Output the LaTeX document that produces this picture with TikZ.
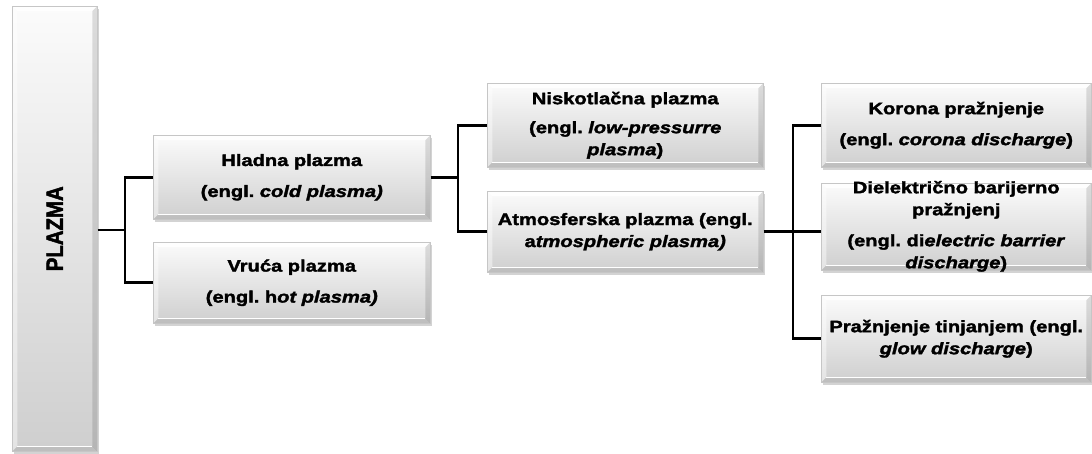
\documentclass[tikz,border=0pt]{standalone}
\usepackage{fontspec}
\setmainfont{Liberation Sans}[FakeStretch=1.22, FakeBold=2]
\newfontfamily\plazmafont{Liberation Sans}[FakeStretch=0.86, FakeBold=2]
\usetikzlibrary{shadows}
\tikzset{
  kutija/.style={draw=gray!45, line width=0.5pt, top color=gray!3, bottom color=gray!38,
    drop shadow={shadow xshift=2pt, shadow yshift=-2.5pt, opacity=0.35},
    anchor=north west, align=center, inner xsep=6pt, inner ysep=0pt,
    text width=265pt, minimum height=84pt,
    font=\frenchspacing\bfseries\fontsize{16.5}{22}\selectfont,
    path picture={
      \coordinate (nw) at (path picture bounding box.north west);
      \coordinate (ne) at (path picture bounding box.north east);
      \coordinate (se) at (path picture bounding box.south east);
      \coordinate (sw) at (path picture bounding box.south west);
      \fill[white, opacity=0.85] (nw) -- (ne) -- ([shift={(-5pt,-5pt)}]ne) -- ([shift={(5pt,-5pt)}]nw) -- cycle;
      \fill[white, opacity=0.45] (nw) -- (sw) -- ([shift={(5pt,5pt)}]sw) -- ([shift={(5pt,-5pt)}]nw) -- cycle;
      \fill[black, opacity=0.12] (ne) -- (se) -- ([shift={(-5pt,5pt)}]se) -- ([shift={(-5pt,-5pt)}]ne) -- cycle;
      \fill[black, opacity=0.08] (sw) -- (se) -- ([shift={(-5pt,5pt)}]se) -- ([shift={(5pt,5pt)}]sw) -- cycle;
      \draw[white, line width=1.2pt] ([shift={(5pt,5pt)}]sw) -- ([shift={(-5pt,5pt)}]se);}},
  veza/.style={line width=2.8pt},
}
\begin{document}
\begin{tikzpicture}[x=1pt, y=-1pt]
    \useasboundingbox (0,0) rectangle (1092,454);

    \node[kutija, text width=73pt, minimum height=445pt] (plazma) at (12,6)
        {\rotatebox{90}{\plazmafont\bfseries\fontsize{23.7}{28}\selectfont PLAZMA}};

    \node[kutija] (hladna) at (153,135) {Hladna plazma\\[9pt](engl. \textit{cold plasma)}};
    \node[kutija, minimum height=81pt] (vruca) at (153,242) {Vruća plazma\\[9pt](engl. h\textit{ot plasma)}};

    \node[kutija, text width=264pt] (niskotlacna) at (487,83) {Niskotlačna plazma\\[7pt](engl. \textit{low-pressurre}\\\textit{plasma})};
    \node[kutija, text width=264pt, minimum height=81pt] (atmosferska) at (487,191) {Atmosferska plazma (engl.\\a\textit{tmospheric plasma)}};

    \node[kutija, text width=258pt] (korona) at (821,83) {Korona pražnjenje\\[9pt](engl. \textit{corona discharge})};
    \node[kutija, text width=258pt, text height=10pt, text depth=77pt] (dielektricno) at (821,183)
        {Dielektrično barijerno\\pražnjenj\\[9pt](engl. di\textit{electric barrier}\\\textit{discharge})};
    \node[kutija, text width=258pt, minimum height=87pt] (tinjanje) at (821,295) {Pražnjenje tinjanjem (engl.\\\textit{glow discharge})};

    \coordinate (r1) at (125,230);
    \coordinate (r2) at (458,178);
    \coordinate (r3) at (793,232);

    \draw[veza] (plazma.east |- r1) -- (r1);
    \draw[veza] (hladna.west) -| (r1) |- (vruca.west);
    \draw[veza] (hladna.east) -- (hladna.east -| r2);
    \draw[veza] (niskotlacna.west) -| (r2) |- (atmosferska.west);
    \draw[veza] (atmosferska.east) -- (atmosferska.east -| dielektricno.west);
    \draw[veza] (korona.west) -| (r3) |- (tinjanje.west);
\end{tikzpicture}
\end{document}
